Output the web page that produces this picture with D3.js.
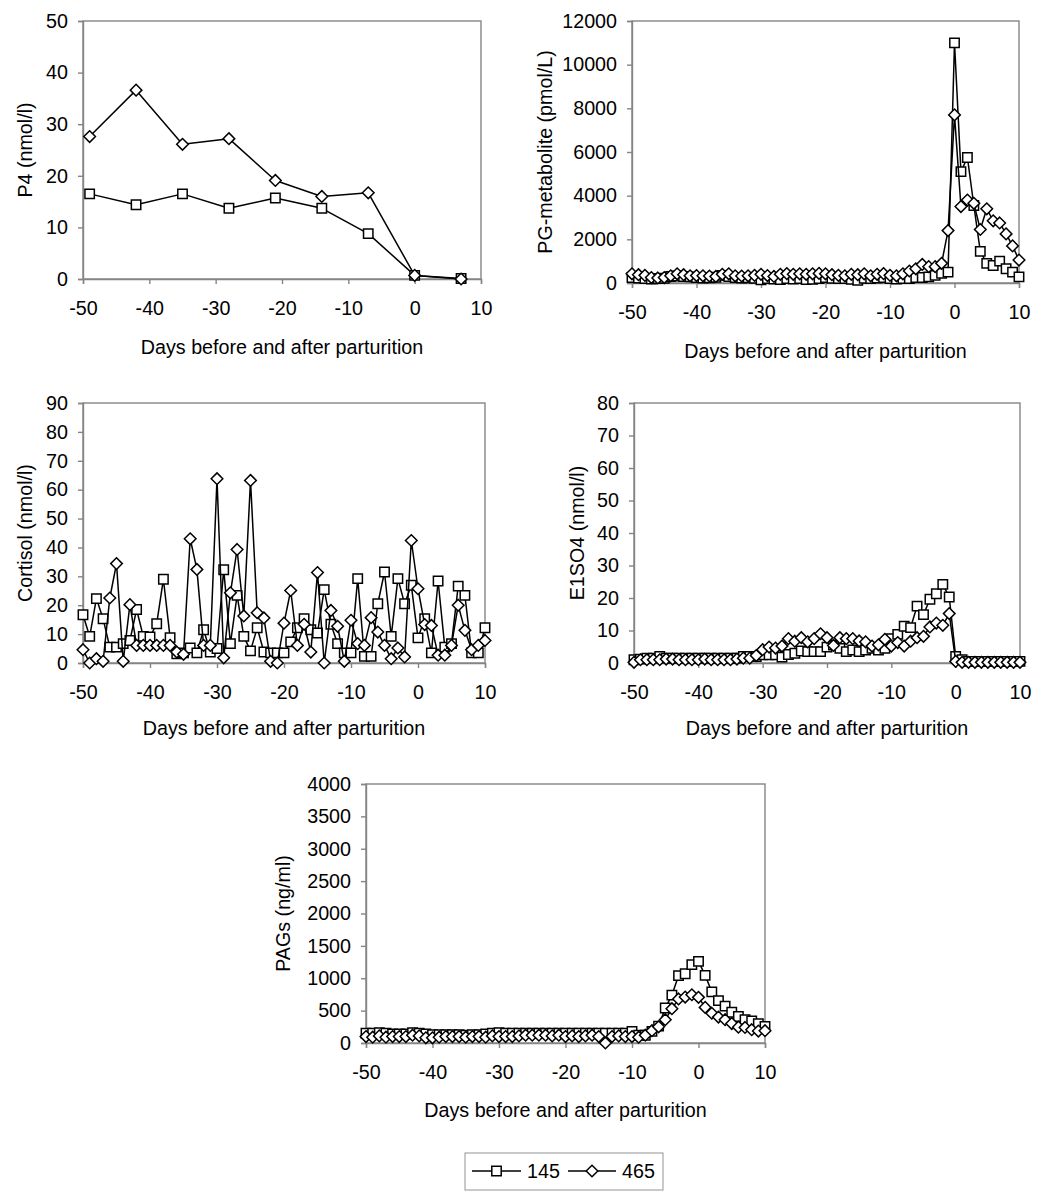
<!DOCTYPE html>
<html>
<head>
<meta charset="utf-8">
<script src="https://cdn.jsdelivr.net/npm/d3@7"></script>
<style>
  html, body { margin: 0; padding: 0; background: #fff; }
  svg { display: block; }
  text { font-family: "Liberation Sans", Arial, sans-serif; fill: #000; }
</style>
</head>
<body>
<svg id="chart" width="1063" height="1200"></svg>
<script>
// ---------------- DATA ----------------
const seriesNames = ["145", "465"];
const xTickValues = [-50, -40, -30, -20, -10, 0, 10];
const xTitle = "Days before and after parturition";

// weekly sampling for P4
const daysWeekly = [-49, -42, -35, -28, -21, -14, -7, 0, 7];
const p4_145 = [16.5, 14.4, 16.5, 13.7, 15.7, 13.7, 8.8, 0.7, 0.1];
const p4_465 = [27.6, 36.6, 26.1, 27.2, 19.1, 16.0, 16.7, 0.7, 0.0];

// daily sampling
const daysDaily = [-50,-49,-48,-47,-46,-45,-44,-43,-42,-41,
                   -40,-39,-38,-37,-36,-35,-34,-33,-32,-31,
                   -30,-29,-28,-27,-26,-25,-24,-23,-22,-21,
                   -20,-19,-18,-17,-16,-15,-14,-13,-12,-11,
                   -10,-9,-8,-7,-6,-5,-4,-3,-2,-1,
                   0,1,2,3,4,5,6,7,8,9,10];

const pg_145 = [250,230,200,180,200,220,300,320,300,280,
                250,230,240,260,350,300,250,230,240,220,
                150,200,180,160,200,180,200,160,170,200,
                250,220,200,200,170,120,220,200,230,250,
                200,180,200,200,250,250,280,350,450,500,
                11000,5100,5750,3550,1450,900,800,1000,650,500,280];
const pg_465 = [420,380,350,250,230,250,330,420,380,330,
                340,330,320,300,400,420,330,320,330,350,
                400,340,300,400,430,400,420,400,420,440,
                420,380,350,330,400,380,420,330,400,430,
                350,330,420,550,650,850,750,750,900,2400,
                7700,3500,3800,3650,2450,3400,2850,2750,2250,1700,1050];

const cort_145 = [16.7,9.2,22.3,15.3,5.5,5.5,6.7,7.8,18.5,9.2,
                  9.0,13.6,29.0,8.8,3.2,3.5,5.2,3.5,11.5,3.8,
                  5.0,32.3,6.7,23.4,9.2,4.2,12.2,3.8,3.5,3.5,
                  3.5,7.3,12.2,15.3,11.5,10.4,25.4,13.4,6.7,3.5,
                  3.5,29.2,2.3,2.3,20.5,31.5,9.2,29.2,20.5,26.9,
                  8.7,15.3,3.5,28.4,5.5,6.7,26.6,23.4,3.5,3.5,12.2];
const cort_465 = [4.6,0.0,1.5,0.6,22.5,34.4,0.6,20.2,6.1,6.1,
                  6.1,6.1,6.1,6.1,3.8,3.0,43.0,32.4,6.1,6.1,
                  63.8,1.8,24.3,39.3,16.3,63.2,17.4,15.6,0.6,0.0,
                  13.8,25.1,6.1,13.4,3.8,31.3,0.0,18.2,12.7,0.6,
                  14.8,6.7,6.1,15.7,10.7,6.1,1.5,5.2,2.1,42.4,
                  25.7,13.3,13.0,2.7,2.7,6.1,20.0,11.3,4.6,6.1,7.8];

const e1_145 = [1.0,1.2,1.5,1.5,2.0,1.5,1.5,1.5,1.5,1.5,
                1.5,1.5,1.5,1.5,1.5,1.5,1.5,2.0,2.0,2.0,
                2.5,2.5,2.5,1.8,2.6,3.0,3.7,3.5,3.5,3.5,
                4.9,5.5,4.5,3.5,4.0,3.5,4.0,4.5,4.0,4.5,
                7.5,8.8,11.3,10.9,17.5,14.9,19.6,21.3,24.2,20.3,
                2.0,1.0,0.5,0.5,0.5,0.5,0.5,0.5,0.5,0.5,0.5];
const e1_465 = [0.2,1.0,1.0,1.0,1.0,1.2,1.2,1.0,1.0,1.0,
                1.0,1.2,1.0,1.0,1.0,1.0,1.2,1.5,1.5,2.3,
                4.1,4.9,4.6,5.2,7.5,6.7,7.8,6.5,7.5,9.0,
                7.8,5.4,7.8,7.5,7.5,6.8,6.5,5.2,5.6,7.3,
                5.2,6.3,5.2,6.7,7.8,8.2,11.1,12.3,11.6,15.2,
                0.5,0.2,0.2,0.2,0.2,0.2,0.2,0.2,0.2,0.2,0.2];

const pag_145 = [150,150,160,150,140,140,140,160,150,140,
                 130,130,130,130,130,120,130,130,140,150,
                 160,150,150,150,150,150,150,150,150,150,
                 150,150,150,150,150,150,150,150,150,150,
                 180,120,120,180,260,540,740,1040,1070,1210,
                 1260,1045,790,655,570,475,410,360,340,300,255];
const pag_465 = [100,90,110,90,100,100,100,120,110,80,
                 80,90,100,100,100,90,100,100,90,110,
                 100,100,100,110,120,120,120,120,110,120,
                 100,110,100,110,120,100,0,100,110,100,
                 100,90,120,190,250,360,530,680,710,745,
                 705,550,460,400,360,300,245,240,205,185,190];

const yTicksP4   = [0,10,20,30,40,50];
const yTicksPG   = [0,2000,4000,6000,8000,10000,12000];
const yTicksCort = [0,10,20,30,40,50,60,70,80,90];
const yTicksE1   = [0,10,20,30,40,50,60,70,80];
const yTicksPAG  = [0,500,1000,1500,2000,2500,3000,3500,4000];

// ---------------- LAYOUT ----------------
const panels = [
  {days: daysWeekly, s1: p4_145, s2: p4_465, yTicks: yTicksP4, yTitle: "P4 (nmol/l)",
   L: 83, R: 481, T: 21, B: 279, yTitleX: 25, xTitleY: 353.5},
  {days: daysDaily, s1: pg_145, s2: pg_465, yTicks: yTicksPG, yTitle: "PG-metabolite (pmol/L)",
   L: 632, R: 1019, T: 21, B: 283, yTitleX: 545, xTitleY: 358},
  {days: daysDaily, s1: cort_145, s2: cort_465, yTicks: yTicksCort, yTitle: "Cortisol (nmol/l)",
   L: 83, R: 485, T: 403, B: 663, yTitleX: 25, xTitleY: 735},
  {days: daysDaily, s1: e1_145, s2: e1_465, yTicks: yTicksE1, yTitle: "E1SO4 (nmol/l)",
   L: 634, R: 1020, T: 403, B: 663, yTitleX: 577, xTitleY: 735},
  {days: daysDaily, s1: pag_145, s2: pag_465, yTicks: yTicksPAG, yTitle: "PAGs (ng/ml)",
   L: 366, R: 765, T: 784, B: 1043, yTitleX: 283, xTitleY: 1117}
];

const FS = 19.7;
const axisColor = "#858585";
const svg = d3.select("#chart");

function squarePath(cx, cy, h) {
  return `M${cx - h},${cy - h}H${cx + h}V${cy + h}H${cx - h}Z`;
}
function diamondPath(cx, cy, h) {
  return `M${cx},${cy - h}L${cx + h},${cy}L${cx},${cy + h}L${cx - h},${cy}Z`;
}

panels.forEach(p => {
  const x = d3.scaleLinear().domain([-50, 10]).range([p.L, p.R]);
  const yMax = p.yTicks[p.yTicks.length - 1];
  const y = d3.scaleLinear().domain([0, yMax]).range([p.B, p.T]);
  const g = svg.append("g");

  // frame
  g.append("rect").attr("x", p.L).attr("y", p.T)
    .attr("width", p.R - p.L).attr("height", p.B - p.T)
    .attr("fill", "none").attr("stroke", axisColor).attr("stroke-width", 1.4);

  // axes
  const ax = g.append("g").attr("transform", `translate(0,${p.B})`)
    .call(d3.axisBottom(x).tickValues(xTickValues).tickSize(5).tickPadding(17).tickFormat(d3.format("d")));
  const ay = g.append("g").attr("transform", `translate(${p.L},0)`)
    .call(d3.axisLeft(y).tickValues(p.yTicks).tickSize(5).tickPadding(10).tickFormat(d3.format("d")));
  [ax, ay].forEach(a => {
    a.select(".domain").attr("stroke", axisColor).attr("stroke-width", 1.4);
    a.selectAll(".tick line").attr("stroke", axisColor).attr("stroke-width", 1.4);
    a.selectAll(".tick text").attr("font-size", FS)
      .attr("font-family", '"Liberation Sans", Arial, sans-serif').attr("fill", "#000")
      .text(d => (d < 0 ? "-" + Math.abs(d) : String(d)));
  });

  // titles
  g.append("text").attr("x", (p.L + p.R) / 2).attr("y", p.xTitleY)
    .attr("text-anchor", "middle").attr("font-size", FS).text(xTitle);
  const cy = (p.T + p.B) / 2;
  g.append("text")
    .attr("transform", `translate(${p.yTitleX + 7},${cy}) rotate(-90)`)
    .attr("text-anchor", "middle").attr("font-size", FS).text(p.yTitle);

  // series
  const line = d3.line().x((d, i) => x(p.days[i])).y(d => y(d));
  const draw = (vals, shape) => {
    g.append("path").attr("d", line(vals)).attr("fill", "none")
      .attr("stroke", "#000").attr("stroke-width", 1.5).attr("stroke-linejoin", "round");
    g.append("g").selectAll("path").data(vals).join("path")
      .attr("d", (d, i) => shape === "sq"
        ? squarePath(x(p.days[i]), y(d), 4.7)
        : diamondPath(x(p.days[i]), y(d), 5.8))
      .attr("fill", "#fff").attr("stroke", "#000").attr("stroke-width", 1.5);
  };
  draw(p.s1, "sq");
  draw(p.s2, "di");
});

// ---------------- LEGEND ----------------
const lg = svg.append("g");
lg.append("rect").attr("x", 465).attr("y", 1153).attr("width", 198).attr("height", 37)
  .attr("fill", "#fff").attr("stroke", "#a6a6a6").attr("stroke-width", 1.2);
const legendItems = [
  {name: seriesNames[0], shape: "sq", x0: 472, x1: 521, tx: 527},
  {name: seriesNames[1], shape: "di", x0: 568, x1: 616, tx: 622}
];
legendItems.forEach(it => {
  const ly = 1171;
  lg.append("line").attr("x1", it.x0).attr("x2", it.x1).attr("y1", ly).attr("y2", ly)
    .attr("stroke", "#000").attr("stroke-width", 1.5);
  const cx = (it.x0 + it.x1) / 2;
  lg.append("path").attr("d", it.shape === "sq" ? squarePath(cx, ly, 4.7) : diamondPath(cx, ly, 5.8))
    .attr("fill", "#fff").attr("stroke", "#000").attr("stroke-width", 1.5);
  lg.append("text").attr("x", it.tx).attr("y", ly + 7).attr("font-size", FS).text(it.name);
});
</script>
</body>
</html>
